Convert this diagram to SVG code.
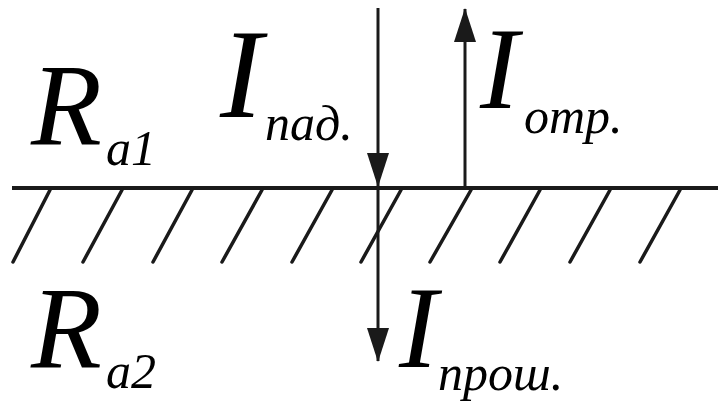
<svg xmlns="http://www.w3.org/2000/svg" width="718" height="401" viewBox="0 0 718 401">
<defs>
<marker id="ah" viewBox="0 0 34 22" refX="33" refY="11" markerWidth="34" markerHeight="22" markerUnits="userSpaceOnUse" orient="auto">
<path d="M0,0 L34,11 L0,22 z" fill="#1a1a1a"/>
</marker>
</defs>
<rect width="718" height="401" fill="#fff"/>
<g id="boundary" stroke="#1a1a1a" fill="none">
<line x1="12" y1="188" x2="718" y2="188" stroke-width="4"/>
<g id="hatching" stroke-width="3.5" stroke-linecap="round">
<line x1="50" y1="190" x2="13" y2="262"/>
<line x1="122" y1="190" x2="83" y2="262"/>
<line x1="192" y1="190" x2="153" y2="262"/>
<line x1="262" y1="190" x2="222" y2="262"/>
<line x1="332" y1="190" x2="292" y2="262"/>
<line x1="401" y1="190" x2="361" y2="262"/>
<line x1="471" y1="190" x2="430" y2="262"/>
<line x1="540" y1="190" x2="500" y2="262"/>
<line x1="610" y1="190" x2="570" y2="262"/>
<line x1="680" y1="190" x2="640" y2="262"/>
</g>
</g>
<g id="connectors" stroke="#1a1a1a" stroke-width="3" fill="none">
<line id="incident" x1="378" y1="8" x2="378" y2="186" marker-end="url(#ah)"/>
<line id="transmitted" x1="378" y1="186" x2="378" y2="361" marker-end="url(#ah)"/>
<line id="reflected" x1="465" y1="188" x2="465" y2="9" marker-end="url(#ah)"/>
</g>
<g id="label-Ra1">
<text x="31" y="145" font-family="Liberation Serif" font-style="italic" font-size="116">R</text>
<text x="106" y="165" font-family="Liberation Serif" font-style="italic" font-size="50">a1</text>
</g>
<g id="label-Ra2">
<text x="31" y="368" font-family="Liberation Serif" font-style="italic" font-size="116">R</text>
<text x="106" y="388" font-family="Liberation Serif" font-style="italic" font-size="50">a2</text>
</g>
<g id="label-Ipad">
<text x="220" y="117" font-family="Liberation Serif" font-style="italic" font-size="128">I</text>
<text x="265" y="140" font-family="Liberation Serif" font-style="italic" font-size="50">пад.</text>
</g>
<g id="label-Iotr">
<text x="480" y="108" font-family="Liberation Serif" font-style="italic" font-size="116">I</text>
<text x="524" y="133" font-family="Liberation Serif" font-style="italic" font-size="50">отр.</text>
</g>
<g id="label-Iprosh">
<text x="399" y="367" font-family="Liberation Serif" font-style="italic" font-size="116">I</text>
<text x="438" y="390" font-family="Liberation Serif" font-style="italic" font-size="50">прош.</text>
</g>
</svg>
